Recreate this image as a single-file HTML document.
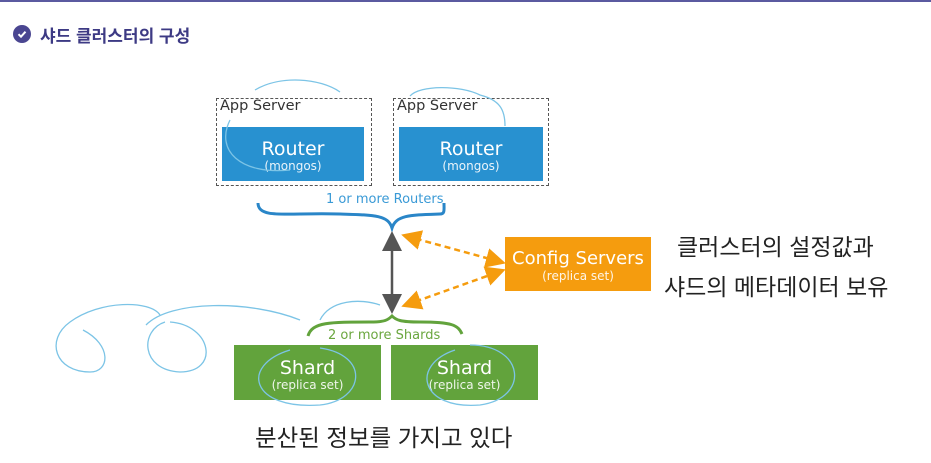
<!DOCTYPE html>
<html><head><meta charset="utf-8"><style>
body{margin:0;width:931px;height:463px;background:#fff;overflow:hidden;position:relative;font-family:"Liberation Sans","Noto Sans CJK KR",sans-serif}
.a{position:absolute;white-space:nowrap}
.box{position:absolute;color:#fff;text-align:center;font-family:"DejaVu Sans","Liberation Sans",sans-serif}
.big{font-size:19px;line-height:20px}
.sm{font-size:12px;line-height:14px;opacity:.9}
</style></head><body>
<div class="a" style="left:0;top:0;width:931px;height:2px;background:#5b5aa0"></div>
<div class="a" style="left:13px;top:25px;width:18px;height:18px;border-radius:50%;background:#4a4691"></div>
<svg class="a" style="left:13px;top:25px" width="18" height="18"><path d="M5.5 9.2l2.5 2.5 4.5-5" stroke="#fff" stroke-width="2" fill="none"/></svg>
<div class="a" style="left:40px;top:22px;font-size:17px;font-weight:bold;color:#3d3a84">샤드 클러스터의 구성</div>

<div class="a" style="left:216px;top:98px;width:154px;height:86px;border:1.5px dashed #555"></div>
<div class="a" style="left:393px;top:98px;width:154px;height:86px;border:1.5px dashed #555"></div>
<div class="a" style="left:220px;top:98px;font-size:14.5px;color:#333;font-family:'DejaVu Sans',sans-serif">App Server</div>
<div class="a" style="left:397px;top:98px;font-size:14.5px;color:#333;font-family:'DejaVu Sans',sans-serif">App Server</div>
<div class="box" style="left:222px;top:127px;width:142px;height:54px;background:#2891d0"><div class="big" style="margin-top:12px">Router</div><div class="sm">(mongos)</div></div>
<div class="box" style="left:399px;top:127px;width:144px;height:54px;background:#2891d0"><div class="big" style="margin-top:12px">Router</div><div class="sm">(mongos)</div></div>
<div class="a" style="left:326px;top:192px;font-size:13px;color:#3a9ad6;font-family:'DejaVu Sans',sans-serif">1 or more Routers</div>

<div class="box" style="left:505px;top:237px;width:146px;height:54px;background:#f59c0e"><div class="big" style="margin-top:12px;font-size:18px">Config Servers</div><div class="sm">(replica set)</div></div>
<div class="a" style="left:328px;top:328px;font-size:13px;color:#6aa63e;font-family:'DejaVu Sans',sans-serif">2 or more Shards</div>
<div class="box" style="left:234px;top:345px;width:147px;height:55px;background:#62a33c"><div class="big" style="margin-top:13px">Shard</div><div class="sm">(replica set)</div></div>
<div class="box" style="left:391px;top:345px;width:147px;height:55px;background:#62a33c"><div class="big" style="margin-top:13px">Shard</div><div class="sm">(replica set)</div></div>

<svg class="a" style="left:0;top:0" width="931" height="463">
<defs>
<marker id="g" markerWidth="8" markerHeight="8" refX="6" refY="4" orient="auto-start-reverse"><path d="M0 0L8 4L0 8z" fill="#555"/></marker>
<marker id="o" markerWidth="8" markerHeight="8" refX="6" refY="4" orient="auto-start-reverse"><path d="M0 0L8 4L0 8z" fill="#f59c0e"/></marker>
</defs>
<path d="M258 203 C258 220,290 212,340 214 C375 215,388 215,392 228 C396 215,410 215,440 214 C445 214,444 210,444 203" stroke="#2a86c8" stroke-width="3" fill="none"/>
<line x1="392" y1="236" x2="392" y2="309" stroke="#555" stroke-width="2.5" marker-start="url(#g)" marker-end="url(#g)"/>
<line x1="406" y1="236" x2="501" y2="262" stroke="#f59c0e" stroke-width="2.5" stroke-dasharray="6,4" marker-start="url(#o)" marker-end="url(#o)"/>
<line x1="406" y1="305" x2="501" y2="271" stroke="#f59c0e" stroke-width="2.5" stroke-dasharray="6,4" marker-start="url(#o)" marker-end="url(#o)"/>
<path d="M308 336 C312 322,330 322,370 322 C385 322,388 320,392 316 C396 320,400 322,420 322 C452 322,458 325,462 334" stroke="#62a33c" stroke-width="3" fill="none"/>
<g stroke="#7cc4e6" stroke-width="1.3" fill="none">
<path d="M70 322 C100 300,150 300,160 315 M70 322 C45 340,55 372,90 372 C110 372,112 345,83 330"/>
<path d="M146 325 C170 300,250 300,300 320 M165 322 C140 330,140 370,180 372 C220 372,212 325,170 322"/>
<path d="M255 90 C280 75,320 78,340 92 M230 120 C215 150,240 175,290 170"/>
<path d="M410 96 C420 85,460 85,480 95 C500 100,505 110,505 126"/>
<path d="M290 350 C240 365,250 410,320 405 C365 400,370 355,320 348"/>
<path d="M455 350 C410 365,420 410,480 405 C530 398,525 345,470 345"/>
<path d="M320 320 C330 300,360 298,380 305"/>
</g>
</svg>

<div class="a" style="left:677px;top:228px;font-size:23px;color:#222">클러스터의 설정값과</div>
<div class="a" style="left:664px;top:268px;font-size:23px;color:#222">샤드의 메타데이터 보유</div>
<div class="a" style="left:255px;top:419px;font-size:23.5px;color:#222">분산된 정보를 가지고 있다</div>
</body></html>
